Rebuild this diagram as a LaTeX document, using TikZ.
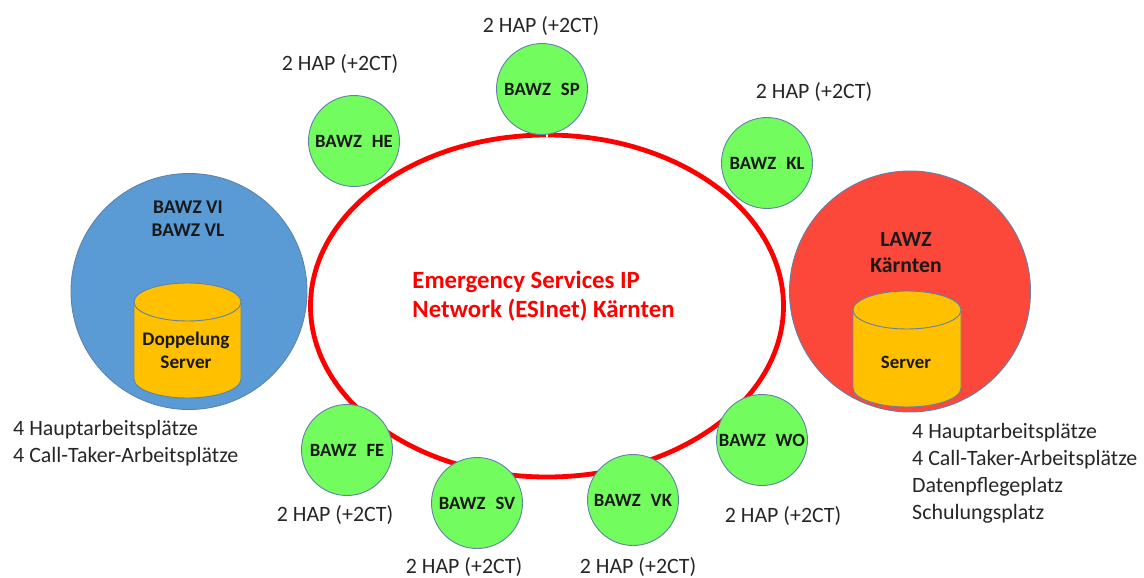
\documentclass[tikz,border=0pt]{standalone}
\usepackage{fontspec}
\usetikzlibrary{shapes.geometric}
\setmainfont{Carlito}
\newcommand{\wgap}{\hspace{10pt}}
\tikzset{
 x=1pt,y=-1pt,
 bawz/.style={circle,draw=edgeblue,line width=.9pt,fill=nodegreen,minimum size=91pt,inner sep=0pt,font=\fontsize{18.7}{22}\selectfont\bfseries,text=black!90},
 big/.style={circle,draw=edgeblue,line width=.9pt,minimum size=#1,inner sep=0pt},
 hap/.style={font=\fontsize{21.9}{26}\selectfont,text=black!85,inner sep=0pt},
 note/.style={font=\fontsize{21.9}{27}\selectfont,text=black!85,align=left,inner sep=0pt,anchor=north west},
 bold/.style={font=\fontsize{#1}{23}\selectfont\bfseries,align=center,inner sep=0pt,text=black!90},
 cyl/.style={fill=cylgold,draw=edgeblue,line width=.9pt},
}
\definecolor{nodegreen}{HTML}{72FC5E}
\definecolor{edgeblue}{HTML}{5F82A8}
\definecolor{blueB}{HTML}{5B9BD5}
\definecolor{redB}{HTML}{FC483A}
\definecolor{cylgold}{HTML}{FFC000}
\definecolor{netred}{HTML}{FF0000}
\begin{document}
\begin{tikzpicture}
\useasboundingbox (0,0) rectangle (1144,578);
% big sites
\node[big=236pt,fill=blueB] (vi) at (189,291.5) {};
\node[big=241pt,fill=redB] (lawz) at (910,291.5) {};
% network
\node[ellipse,draw=netred,line width=4.8pt,minimum width=473pt,minimum height=342pt,inner sep=0pt] (net) at (547,306) {};
\path[draw=white,line width=1.2pt] (547,131) -- (547,137);
\node[font=\fontsize{24.8}{29}\selectfont\bfseries,text=netred,align=left,inner sep=0pt] (nettext) at (543.5,296) {Emergency Services IP\\Network (ESInet) Kärnten};
% cylinders
\path[cyl] (134,302) -- (134,379) arc[start angle=180,end angle=0,x radius=53.5,y radius=19] -- (241,302) arc[start angle=0,end angle=-180,x radius=53.5,y radius=19] -- cycle;
\path[cyl] (134,302) arc[start angle=180,end angle=0,x radius=53.5,y radius=19];
\path[cyl] (853,310) -- (853,388) arc[start angle=180,end angle=0,x radius=54,y radius=19] -- (961,310) arc[start angle=0,end angle=-180,x radius=54,y radius=19] -- cycle;
\path[cyl] (853,310) arc[start angle=180,end angle=0,x radius=54,y radius=19];
% labels in big sites
\node[bold=19.4] (vit) at (188,218.5) {BAWZ VI\\BAWZ VL};
\node[bold=19.2] (srv1) at (186,350) {Doppelung\\Server};
\node[bold=21.7] (lt) at (906,253) {LAWZ\\[3pt]Kärnten};
\node[bold=18.8] (srv2) at (906,362) {Server};
% small sites
\node[bawz] (sp) at (542,89) {BAWZ\wgap SP};
\node[bawz] (he) at (354,141) {BAWZ\wgap HE};
\node[bawz] (kl) at (767,163) {BAWZ\wgap KL\hspace{4pt}};
\node[bawz] (wo) at (762,440) {BAWZ\wgap WO};
\node[bawz] (vk) at (633,500) {BAWZ\wgap VK};
\node[bawz] (sv) at (477,503) {BAWZ\wgap SV};
\node[bawz] (fe) at (347,450) {BAWZ\wgap FE};
% captions
\node[hap] (h1) at (541,26) {2 HAP (+2CT)};
\node[hap] (h2) at (340,64) {2 HAP (+2CT)};
\node[hap] (h3) at (814,92) {2 HAP (+2CT)};
\node[hap] (h4) at (783,516) {2 HAP (+2CT)};
\node[hap] (h5) at (638,567) {2 HAP (+2CT)};
\node[hap] (h6) at (464,567) {2 HAP (+2CT)};
\node[hap] (h7) at (335,515) {2 HAP (+2CT)};
\node[note] (n1) at (13,420) {4 Hauptarbeitsplätze\\4 Call-Taker-Arbeitsplätze};
\node[note] (n2) at (912,423) {4 Hauptarbeitsplätze\\4 Call-Taker-Arbeitsplätze\\Datenpflegeplatz\\Schulungsplatz};
\end{tikzpicture}
\end{document}
